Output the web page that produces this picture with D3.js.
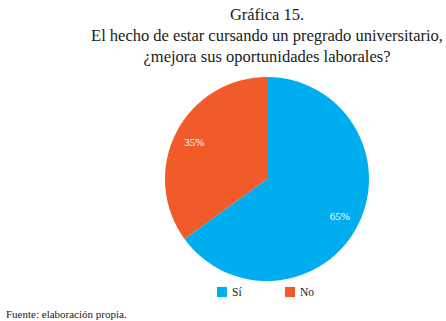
<!DOCTYPE html>
<html>
<head>
<meta charset="utf-8">
<script src="https://cdn.jsdelivr.net/npm/d3@7"></script>
<style>
  html, body { margin: 0; padding: 0; background: #ffffff; }
  svg { display: block; }
</style>
</head>
<body>
<div id="chart"></div>
<script>
const titleLines = ["Gráfica 15.", "El hecho de estar cursando un pregrado universitario,", "¿mejora sus oportunidades laborales?"];
const categories = ["Sí", "No"];
const values = [65, 35];
const labels = ["65%", "35%"];
const colors = ["#00AEEF", "#F15A29"];
const source = "Fuente: elaboración propia.";

const W = 446, H = 321;
const FONT = "'Liberation Serif', 'Times New Roman', Times, serif";
const svg = d3.select("#chart").append("svg").attr("width", W).attr("height", H)
  .attr("font-family", FONT);

const cx = 267, cy = 179, r = 102;

svg.append("g").selectAll("text").data(titleLines).join("text")
  .attr("x", cx).attr("y", (d, i) => 20 + i * 21)
  .attr("text-anchor", "middle")
  .attr("font-size", 16.5)
  .attr("fill", "#1a1a1a")
  .text(d => d);

const pie = d3.pie().sort(null).value(d => d)(values);
const arc = d3.arc().innerRadius(0).outerRadius(r);
const labelArc = d3.arc().innerRadius(r * 0.8).outerRadius(r * 0.8);

const g = svg.append("g").attr("transform", `translate(${cx},${cy})`);
g.selectAll("path").data(pie).join("path")
  .attr("d", arc)
  .attr("fill", (d, i) => colors[i]);

g.selectAll("text").data(pie).join("text")
  .attr("transform", d => `translate(${labelArc.centroid(d)})`)
  .attr("text-anchor", "middle")
  .attr("dy", "0.35em")
  .attr("font-size", 11)
  .attr("fill", "#ffffff")
  .text((d, i) => labels[i]);

const legend = svg.append("g");
const lx = [217, 285];
categories.forEach((c, i) => {
  legend.append("rect").attr("x", lx[i]).attr("y", 287).attr("width", 10).attr("height", 10).attr("fill", colors[i]);
  legend.append("text").attr("x", lx[i] + 15).attr("y", 296).attr("font-size", 11.5).attr("fill", "#1a1a1a").text(c);
});

svg.append("text").attr("x", 6).attr("y", 318).attr("font-size", 11).attr("fill", "#1a1a1a").text(source);
</script>
</body>
</html>
